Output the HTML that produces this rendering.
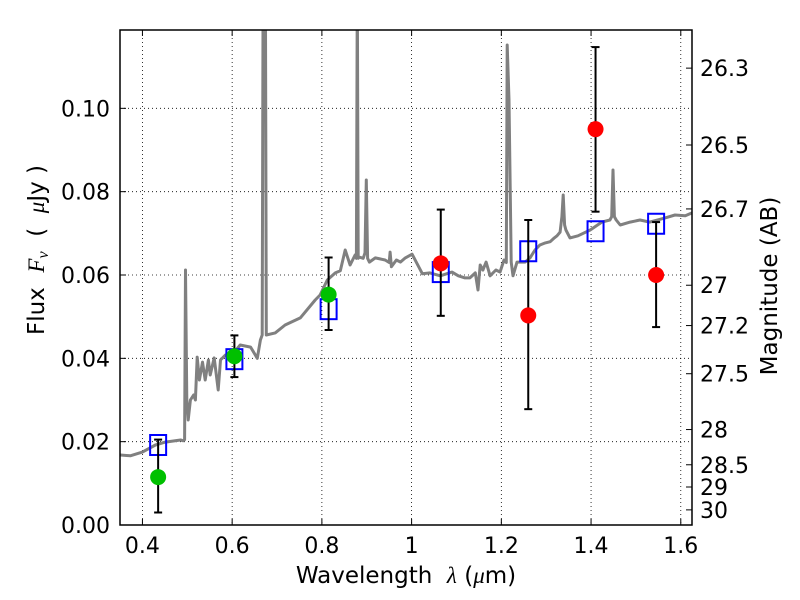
<!DOCTYPE html>
<html><head><meta charset="utf-8"><style>
body{margin:0;background:#fff}
svg{display:block;font-family:"DejaVu Sans","Liberation Sans",sans-serif}
text{white-space:pre}
</style></head><body>
<svg id="chart" width="800" height="600" xmlns="http://www.w3.org/2000/svg"></svg>
<script>
const specLambda=[0.351,0.373,0.400,0.429,0.451,0.485,0.491,0.494,0.496,0.499,0.502,0.507,0.514,0.518,0.522,0.527,0.534,0.540,0.547,0.551,0.560,0.569,0.574,0.585,0.598,0.618,0.641,0.656,0.663,0.667,0.669,0.674,0.676,0.696,0.718,0.752,0.785,0.796,0.812,0.830,0.841,0.852,0.863,0.874,0.877,0.879,0.881,0.883,0.892,0.896,0.899,0.902,0.906,0.919,0.941,0.950,0.952,0.955,0.966,0.975,0.986,1.001,1.024,1.041,1.064,1.090,1.104,1.119,1.130,1.142,1.148,1.153,1.159,1.166,1.175,1.188,1.197,1.206,1.211,1.213,1.217,1.222,1.226,1.235,1.253,1.264,1.275,1.286,1.298,1.309,1.318,1.324,1.331,1.335,1.338,1.341,1.344,1.353,1.371,1.398,1.424,1.442,1.446,1.449,1.452,1.456,1.465,1.487,1.509,1.531,1.565,1.587,1.610,1.625];
const specFlux=[0.0168,0.0166,0.0175,0.0192,0.0199,0.0204,0.0202,0.0205,0.0612,0.0300,0.0252,0.0300,0.0312,0.0300,0.0403,0.0348,0.0391,0.0348,0.0396,0.0360,0.0401,0.0324,0.0396,0.0408,0.0406,0.0432,0.0427,0.0400,0.0444,0.0456,0.1300,0.1300,0.0456,0.0461,0.0480,0.0497,0.0540,0.0552,0.0588,0.0605,0.0610,0.0660,0.0624,0.0648,0.0640,0.1300,0.0640,0.0643,0.0640,0.0653,0.0828,0.0640,0.0631,0.0641,0.0636,0.0630,0.0655,0.0620,0.0636,0.0631,0.0641,0.0650,0.0603,0.0605,0.0598,0.0607,0.0598,0.0593,0.0593,0.0605,0.0564,0.0624,0.0612,0.0631,0.0598,0.0612,0.0607,0.0636,0.0630,0.1152,0.1020,0.0631,0.0598,0.0631,0.0631,0.0641,0.0660,0.0672,0.0677,0.0680,0.0689,0.0694,0.0703,0.0740,0.0792,0.0720,0.0708,0.0689,0.0694,0.0708,0.0727,0.0732,0.0740,0.0852,0.0740,0.0732,0.0720,0.0727,0.0732,0.0727,0.0737,0.0744,0.0742,0.0749];
const photLambda=[0.435,0.605,0.815,1.065,1.260,1.410,1.545];
const photFlux=[0.0115,0.0405,0.0553,0.0628,0.0503,0.0950,0.0600];
const errLow=[0.0030,0.0355,0.0468,0.0502,0.0278,0.0752,0.0475];
const errHigh=[0.0205,0.0455,0.0642,0.0757,0.0732,0.1147,0.0727];
const photColor=["#00c000","#00c000","#00c000","#ff0000","#ff0000","#ff0000","#ff0000"];
const modelFlux=[0.0192,0.0398,0.0518,0.0607,0.0657,0.0705,0.0723];
const xTicks=[0.4,0.6,0.8,1.0,1.2,1.4,1.6];
const xTickLabels=["0.4","0.6","0.8","1","1.2","1.4","1.6"];
const yTicks=[0,0.02,0.04,0.06,0.08,0.10];
const yTickLabels=["0.00","0.02","0.04","0.06","0.08","0.10"];
const magTicks=[26.3,26.5,26.7,27,27.2,27.5,28,28.5,29,30];

const L=120,R=692,T=30,B=525,XMIN=0.35,XMAX=1.625,YMIN=0,YMAX=0.1188;
const X=v=>L+(v-XMIN)/(XMAX-XMIN)*(R-L);
const Y=v=>B-(v-YMIN)/(YMAX-YMIN)*(B-T);
const svg=document.getElementById('chart');
const NS='http://www.w3.org/2000/svg';
function mk(tag,attrs,parent){const e=document.createElementNS(NS,tag);for(const k in attrs)e.setAttribute(k,attrs[k]);(parent||svg).appendChild(e);return e;}

const defs=mk('defs',{});
const cp=mk('clipPath',{id:'clip'},defs);
mk('rect',{x:L,y:T,width:R-L,height:B-T},cp);

xTicks.forEach((t,i)=>{
  const g=mk('line',{x1:X(t),x2:X(t),y1:T,y2:B,stroke:'#000','stroke-width':0.8,'stroke-dasharray':'1,3'});
  
  
  const tk=mk('line',{x1:X(t),x2:X(t),y1:B,y2:B-6,stroke:'#000'});
  
  
  mk('line',{x1:X(t),x2:X(t),y1:T,y2:T+6,stroke:'#000'});
  const tx=mk('text',{x:X(t),y:B+28,'font-size':22,'text-anchor':'middle'});
  tx.textContent=xTickLabels[i];
  
  
});
yTicks.forEach((t,i)=>{
  if(t>0){
    const g=mk('line',{x1:L,x2:R,y1:Y(t),y2:Y(t),stroke:'#000','stroke-width':0.8,'stroke-dasharray':'1,3'});
    
    
  }
  mk('line',{x1:L,x2:L+6,y1:Y(t),y2:Y(t),stroke:'#000'});
  const tx=mk('text',{x:L-10,y:Y(t)+8,'font-size':22,'text-anchor':'end'});
  tx.textContent=yTickLabels[i];
  
  
});
magTicks.forEach(m=>{
  const f=Math.pow(10,(23.9-m)/2.5);
  const y=Y(f);
  const tk=mk('line',{x1:R,x2:R-6,y1:y,y2:y,stroke:'#000'});
  
  
  const tx=mk('text',{x:R+8,y:y+8,'font-size':22});
  tx.textContent=String(m);
  
  
});

let d='';
specLambda.forEach((l,i)=>{d+=(i?'L':'M')+X(l).toFixed(1)+','+Y(specFlux[i]).toFixed(1);});
const sp=mk('path',{d:d,fill:'none',stroke:'#808080','stroke-width':3,'stroke-linejoin':'round','clip-path':'url(#clip)'});



photLambda.forEach((l,i)=>{
  const s=mk('rect',{x:X(l)-8,y:Y(modelFlux[i])-10,width:16,height:20,fill:'none',stroke:'#0000ff','stroke-width':2});
  
  
});
photLambda.forEach((l,i)=>{
  const x=X(l);
  const g=mk('g',{});
  
  
  mk('line',{x1:x,x2:x,y1:Y(errLow[i]),y2:Y(errHigh[i]),stroke:'#000','stroke-width':2},g);
  mk('line',{x1:x-4,x2:x+4,y1:Y(errLow[i]),y2:Y(errLow[i]),stroke:'#000','stroke-width':2},g);
  mk('line',{x1:x-4,x2:x+4,y1:Y(errHigh[i]),y2:Y(errHigh[i]),stroke:'#000','stroke-width':2},g);
  const c=mk('circle',{cx:x,cy:Y(photFlux[i]),r:8,fill:photColor[i]});
  
  
});

const fr=mk('rect',{x:L,y:T,width:R-L,height:B-T,fill:'none',stroke:'#000','stroke-width':1.5});



const xt=mk('text',{x:406,y:583,'font-size':23,'text-anchor':'middle'});
xt.innerHTML='Wavelength  <tspan font-family="Liberation Serif" font-style="italic">λ</tspan> (<tspan font-family="Liberation Serif" font-style="italic">μ</tspan>m)';


const yt=mk('text',{x:0,y:0,'font-size':23,'text-anchor':'middle',transform:'translate(44,250) rotate(-90)'});
yt.innerHTML='Flux  <tspan font-family="Liberation Serif" font-style="italic">F</tspan><tspan font-family="Liberation Serif" font-style="italic" font-size="16" dy="4">ν</tspan><tspan dy="-4">  (  </tspan><tspan font-family="Liberation Serif" font-style="italic">μ</tspan>Jy )';


const rt=mk('text',{x:0,y:0,'font-size':23,'text-anchor':'middle',transform:'translate(777,286) rotate(-90)'});
rt.textContent='Magnitude (AB)';


</script>
</body></html>
